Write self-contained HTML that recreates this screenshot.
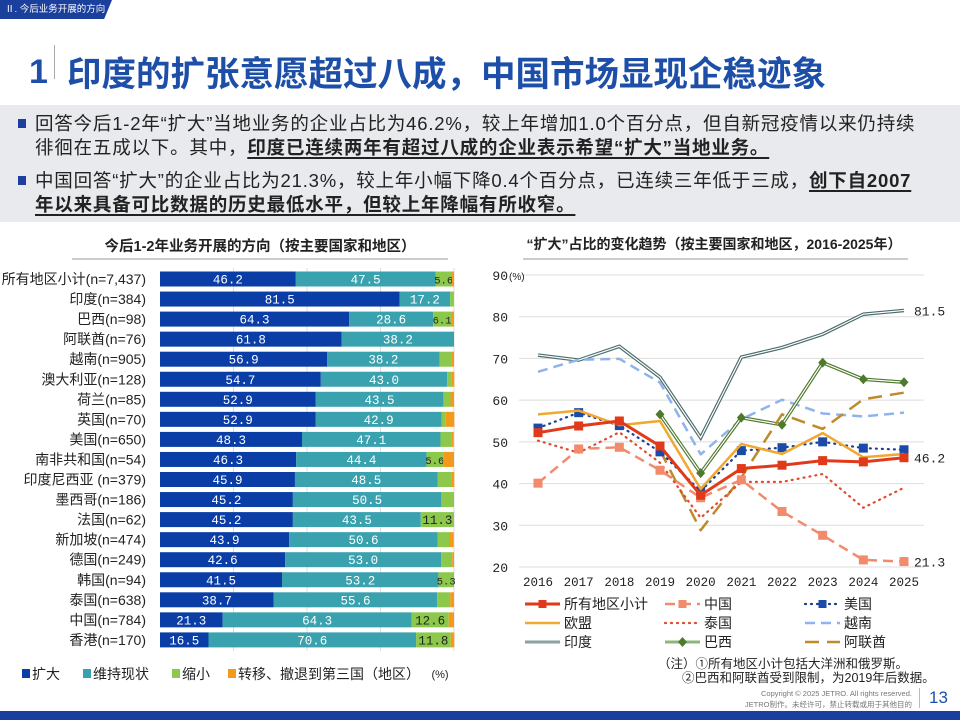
<!DOCTYPE html>
<html><head><meta charset="utf-8">
<style>
body{margin:0;width:960px;height:720px;position:relative;overflow:hidden;background:#fff;font-family:"Liberation Sans","Noto Sans CJK SC",sans-serif;}
.abs{position:absolute;}
.box{left:0;top:105px;width:960px;height:117px;background:#e9eaed;}
.bl{position:absolute;left:18px;font-size:18.5px;letter-spacing:0.8px;color:#222;line-height:24px;white-space:nowrap;}
.sq{display:inline-block;width:8px;height:9px;background:#1f3f9e;margin-right:9px;vertical-align:2px;}
u{font-weight:bold;text-decoration-thickness:1.5px;text-underline-offset:3px;}
svg text{font-family:"Liberation Sans","Noto Sans CJK SC",sans-serif;}
svg text.mono{font-family:"Liberation Mono","Noto Sans CJK SC",monospace;}
</style></head><body>
<div class="abs" style="left:0;top:0;width:112px;height:19px;background:#1b3f9c;clip-path:polygon(0 0,100% 0,93% 100%,0 100%);color:#fff;font-size:9.5px;line-height:19px;padding-left:5px;box-sizing:border-box;white-space:nowrap;">Ⅱ. 今后业务开展的方向</div>
<div class="abs" style="left:29px;top:53px;font-size:34px;font-weight:bold;color:#1d4fa8;">1</div>
<div class="abs" style="left:54px;top:45px;width:1px;height:34px;background:#aaa;"></div>
<div class="abs" style="left:67px;top:46px;font-size:34.5px;font-weight:bold;color:#1d4fa8;white-space:nowrap;">印度的扩张意愿超过八成，中国市场显现企稳迹象</div>
<div class="abs box">
<div class="bl" style="top:7px;"><span class="sq"></span>回答今后1-2年“扩大”当地业务的企业占比为46.2%，较上年增加1.0个百分点，但自新冠疫情以来仍持续<br><span style="padding-left:17px">徘徊在五成以下。其中，<u>印度已连续两年有超过八成的企业表示希望“扩大”当地业务。</u></span></div>
<div class="bl" style="top:64px;"><span class="sq"></span>中国回答“扩大”的企业占比为21.3%，较上年小幅下降0.4个百分点，已连续三年低于三成，<u>创下自2007</u><br><span style="padding-left:17px"><u>年以来具备可比数据的历史最低水平，但较上年降幅有所收窄。</u></span></div>
</div>
<svg id="chart" class="abs" style="left:0;top:0" width="960" height="720"></svg>
<div class="abs" style="left:658px;top:657px;font-size:12.5px;color:#222;line-height:14px;white-space:nowrap;">（注）①所有地区小计包括大洋洲和俄罗斯。<br><span style="padding-left:24px">②巴西和阿联酋受到限制，为2019年后数据。</span></div>
<div class="abs" style="left:700px;top:688px;width:212px;text-align:right;font-size:7.5px;color:#777;line-height:11px;">Copyright © 2025 JETRO. All rights reserved.<br>JETRO制作。未经许可，禁止转载或用于其他目的</div>
<div class="abs" style="left:919px;top:688px;width:1px;height:20px;background:#bbb;"></div>
<div class="abs" style="left:929px;top:688px;font-size:17px;color:#1d4fa8;">13</div>
<div class="abs" style="left:0;top:711px;width:960px;height:9px;background:#1b3f9c;"></div>
<script>
const countries=["所有地区小计(n=7,437)","印度(n=384)","巴西(n=98)","阿联酋(n=76)","越南(n=905)","澳大利亚(n=128)","荷兰(n=85)","英国(n=70)","美国(n=650)","南非共和国(n=54)","印度尼西亚 (n=379)","墨西哥(n=186)","法国(n=62)","新加坡(n=474)","德国(n=249)","韩国(n=94)","泰国(n=638)","中国(n=784)","香港(n=170)"];
const expand=[46.2,81.5,64.3,61.8,56.9,54.7,52.9,52.9,48.3,46.3,45.9,45.2,45.2,43.9,42.6,41.5,38.7,21.3,16.5];
const maintain=[47.5,17.2,28.6,38.2,38.2,43.0,43.5,42.9,47.1,44.4,48.5,50.5,43.5,50.6,53.0,53.2,55.6,64.3,70.6];
const shrink=[5.6,1.0,6.1,0,4.2,1.6,2.4,1.4,3.9,5.6,4.9,4.3,11.3,3.8,3.8,5.3,4.4,12.6,11.8];
const withdraw=[0.7,0.3,1.0,0,0.7,0.8,1.2,2.9,0.6,3.7,0.8,0,0,1.6,0.6,0,1.3,1.8,1.2];
const years=[2016,2017,2018,2019,2020,2021,2022,2023,2024,2025];
const yTicks=[20,30,40,50,60,70,80,90];
const sAll=[52.2,53.8,55.0,49.0,37.2,43.6,44.4,45.5,45.2,46.2];
const sChina=[40.1,48.3,48.7,43.2,36.6,40.9,33.3,27.6,21.7,21.3];
const sUS=[53.3,57.0,53.9,47.6,38.2,47.9,48.6,50.0,48.5,48.1];
const sThai=[50.3,47.4,52.3,45.0,31.8,40.4,40.4,42.3,34.2,39.0];
const sEU=[56.6,57.5,54.0,55.0,38.7,49.5,47.1,52.1,46.3,47.1];
const sVN=[66.8,69.7,69.9,64.2,47.0,55.4,60.1,56.8,56.1,57.0];
const sIndia=[70.8,69.6,72.9,65.5,51.0,70.3,72.6,75.8,80.6,81.5];
const sBrazil=[null,null,null,56.6,42.5,55.8,54.1,69.0,65.0,64.3];
const sUAE=[null,null,null,48.0,28.8,41.5,56.6,53.1,60.2,61.8];

const svg=document.getElementById('chart');
const NS='http://www.w3.org/2000/svg';
function mk(tag,a,parent){const e=document.createElementNS(NS,tag);for(const k in a)e.setAttribute(k,a[k]);(parent||svg).appendChild(e);return e;}
function tx(x,y,s,a,parent){const e=mk('text',Object.assign({x:x,y:y},a),parent);e.textContent=s;return e;}

let t=tx(260,251,'今后1-2年业务开展的方向（按主要国家和地区）',{'text-anchor':'middle','font-size':14.5,'font-weight':'bold',fill:'#222'});


let ul=mk('line',{x1:72,x2:448,y1:259,y2:259,stroke:'#ccc','stroke-width':2});


t=tx(714,249,'“扩大”占比的变化趋势（按主要国家和地区，2016-2025年）',{'text-anchor':'middle','font-size':14,'font-weight':'bold',fill:'#222'});


ul=mk('line',{x1:523,x2:908,y1:259,y2:259,stroke:'#ccc','stroke-width':2});



const bx0=160,bw=294,by0=279,bstep=20.05,bh=15;
const bX=v=>bx0+v/100*bw;
const bY=i=>by0+i*bstep;
[25,50,75,100].forEach(v=>{const g=mk('line',{x1:bX(v),x2:bX(v),y1:268,y2:651,stroke:'#ddd','stroke-width':1});

});
const segCols=['#0a3ea6','#3aa1ae','#8cc84b','#f39a1c'];
const segTxt=['#fff','#fff','#222','#222'];
countries.forEach((c,i)=>{
  const y=bY(i);
  const lab=tx(146,y+5,c,{'text-anchor':'end','font-size':14,fill:'#222'});
  
  
  const vals=[expand[i],maintain[i],shrink[i],withdraw[i]];
  let acc=0;
  vals.forEach((v,k)=>{
    if(v<=0)return;
    const r=mk('rect',{x:bX(acc),y:y-bh/2,width:bX(acc+v)-bX(acc),height:bh,fill:segCols[k]});
    
    
    const show=(k<2)||(k==2&&v>=5);
    if(show){const small=(k==2&&v<10);
      const l=tx((bX(acc)+bX(acc+v))/2,y+4.5,v.toFixed(1),{'text-anchor':'middle','font-size':small?10.5:12.5,fill:segTxt[k],'class':'mono'});
      
      }
    acc+=v;
  });
});
const legB=[['扩大',22],['维持现状',83],['缩小',172],['转移、撤退到第三国（地区）',228]];
legB.forEach((l,k)=>{
  const r=mk('rect',{x:l[1],y:669,width:8,height:9,fill:segCols[k]});
  
  
  const e=tx(l[1]+10,679,l[0],{'font-size':14,fill:'#222'});
  
  
});
t=tx(440,678,'(%)',{'font-size':11,fill:'#222','text-anchor':'middle'});



const lx0=538,lx1=904,ly20=567,ly90=275;
const lX=i=>lx0+i*(lx1-lx0)/(years.length-1);
const lY=v=>ly20-(v-20)*(ly20-ly90)/70;
yTicks.forEach(v=>{
  const g=mk('line',{x1:519,x2:924,y1:lY(v),y2:lY(v),stroke:'#ddd','stroke-width':1});
  
  
  const l=tx(508,lY(v)+5,String(v),{'text-anchor':'end','font-size':13,fill:'#222','class':'mono'});
  
  
});
t=tx(509,280,'(%)',{'font-size':10,fill:'#222'});


years.forEach((y,i)=>{const l=tx(lX(i),586,String(y),{'text-anchor':'middle','font-size':12.5,fill:'#222','class':'mono'});
  
  });

function pathD(s){let d='',pen=false;s.forEach((v,i)=>{if(v==null){pen=false;return;}d+=(pen?'L':'M')+lX(i)+' '+lY(v)+' ';pen=true;});return d;}
function series(s,name,st,marker){
  const g=mk('g',{});
  
  
  if(st.double){
    mk('path',{d:pathD(s),fill:'none',stroke:st.color,'stroke-width':3.5,'stroke-linejoin':'miter'},g);
    mk('path',{d:pathD(s),fill:'none',stroke:'#fff','stroke-width':1.2},g);
  } else {
    const a={d:pathD(s),fill:'none',stroke:st.color,'stroke-width':st.w||2.5,'stroke-linejoin':'round'};
    if(st.dash)a['stroke-dasharray']=st.dash;
    if(st.cap)a['stroke-linecap']=st.cap;
    mk('path',a,g);
  }
  if(marker)s.forEach((v,i)=>{if(v==null)return;
    let m;
    if(marker.type=='sq')m=mk('rect',{x:lX(i)-4.5,y:lY(v)-4.5,width:9,height:9,fill:marker.color},g);
    else m=mk('path',{d:`M${lX(i)} ${lY(v)-5}L${lX(i)+4.5} ${lY(v)}L${lX(i)} ${lY(v)+5}L${lX(i)-4.5} ${lY(v)}Z`,fill:marker.color},g);
    
    
  });
}
const stIndia={color:'#4a6b6b',double:true};
const stVN={color:'#8fb4ec',w:2.5,dash:'10 6'};
const stBrazil={color:'#4f7a2d',double:true};
const stUAE={color:'#c08a2a',w:2.5,dash:'14 8'};
const stEU={color:'#f0a830',w:2.5};
const stThai={color:'#e04a2c',w:2.2,dash:'1 5',cap:'round'};
const stChina={color:'#f28a6c',w:2.5,dash:'10 6'};
const stUS={color:'#1c3f94',w:2.2,dash:'1 5',cap:'round'};
const stAll={color:'#e03a1a',w:3};
series(sIndia,'series-india',stIndia);
series(sVN,'series-vietnam',stVN);
series(sBrazil,'series-brazil',stBrazil,{type:'dia',color:'#4f7a2d'});
series(sUAE,'series-uae',stUAE);
series(sThai,'series-thailand',stThai);
series(sChina,'series-china',stChina,{type:'sq',color:'#f28a6c'});
series(sUS,'series-us',stUS,{type:'sq',color:'#1c4aa8'});
series(sEU,'series-eu',stEU);
series(sAll,'series-all',stAll,{type:'sq',color:'#e03a1a'});
[[sIndia,'81.5'],[sAll,'46.2'],[sChina,'21.3']].forEach(p=>{
  const v=p[0][p[0].length-1];
  const l=tx(914,lY(v)+5,p[1],{'font-size':13,fill:'#222','class':'mono'});
  
  
});
const legL=[['所有地区小计',stAll,{type:'sq',color:'#e03a1a'}],['中国',stChina,{type:'sq',color:'#f28a6c'}],['美国',stUS,{type:'sq',color:'#1c4aa8'}],
['欧盟',stEU,null],['泰国',stThai,null],['越南',stVN,null],
['印度',{color:'#8aa2a2',w:3},null],['巴西',{color:'#8db67a',w:3},{type:'dia',color:'#4f7a2d'}],['阿联酋',stUAE,null]];
legL.forEach((l,k)=>{
  const cx=[525,665,805][k%3],cy=[604,623,642][Math.floor(k/3)];
  const g=mk('g',{});
  
  
  const st=l[1];
  const a={x1:cx,x2:cx+35,y1:cy,y2:cy,stroke:st.double?'#8aa2a2':st.color,'stroke-width':st.w||3};
  if(st.dash)a['stroke-dasharray']=st.dash;
  if(st.cap)a['stroke-linecap']=st.cap;
  mk('line',a,g);
  if(l[2]){const mx=cx+17.5;
    if(l[2].type=='sq')mk('rect',{x:mx-4,y:cy-4,width:8,height:8,fill:l[2].color},g);
    else mk('path',{d:`M${mx} ${cy-5}L${mx+4.5} ${cy}L${mx} ${cy+5}L${mx-4.5} ${cy}Z`,fill:l[2].color},g);}
  tx(cx+39,cy+5,l[0],{'font-size':14,fill:'#222'},g);
});
</script>
</body></html>
